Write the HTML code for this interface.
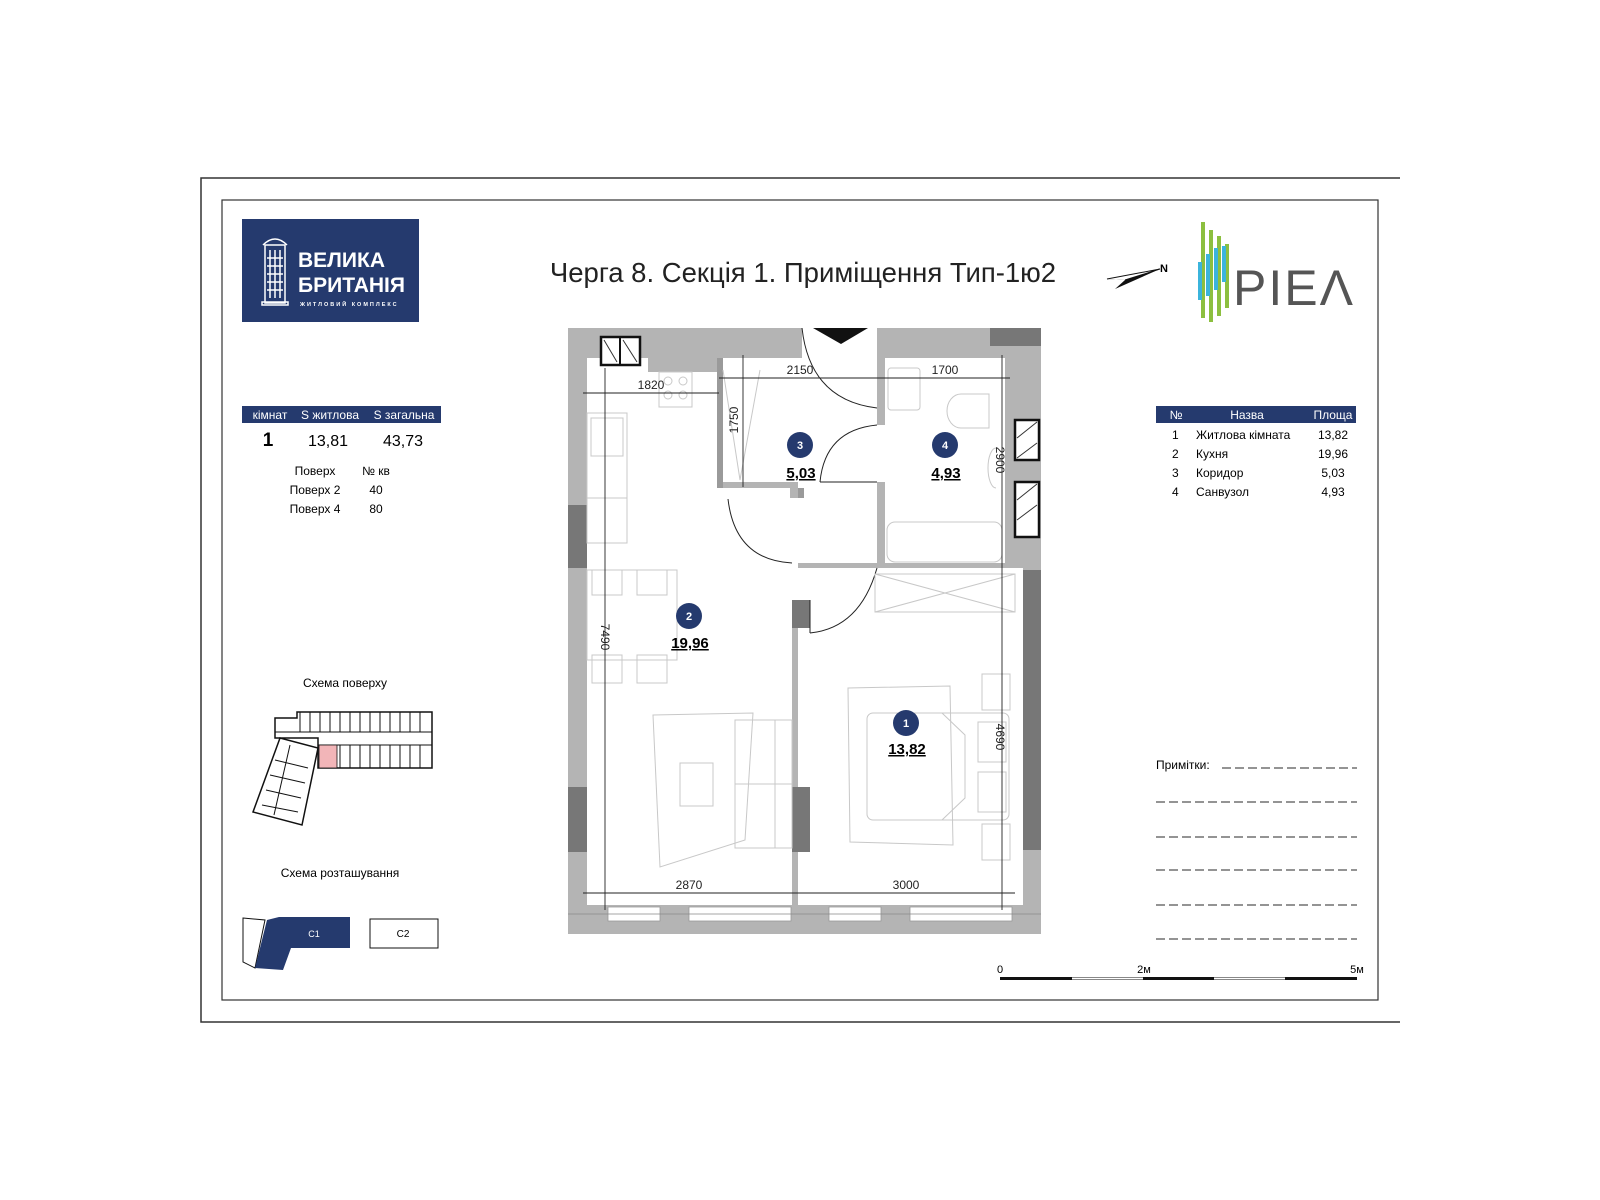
<!DOCTYPE html>
<html><head><meta charset="utf-8"><style>
html,body{margin:0;padding:0;background:#fff;}
svg{display:block;font-family:"Liberation Sans",Arial,sans-serif;}
</style></head><body>
<svg width="1600" height="1200" viewBox="0 0 1600 1200" xmlns="http://www.w3.org/2000/svg">
<polyline points="1400,178 201,178 201,1022 1400,1022" fill="none" stroke="#333" stroke-width="1.5"/>
<rect x="222" y="200" width="1156" height="800" fill="none" stroke="#333" stroke-width="1.2"/>

<rect x="242" y="219" width="177" height="103" fill="#253a6e"/>
<g stroke="#fff" stroke-width="1.5" fill="none">
<rect x="265" y="245" width="20" height="58"/><path d="M263,245 q12,-12 24,0"/><rect x="262" y="302" width="26" height="3"/>
<path d="M270,250v48M275,250v48M280,250v48M267,258h16M267,266h16M267,274h16M267,282h16M267,290h16"/>
</g>
<text x="298" y="267" fill="#fff" font-size="21" font-weight="bold">ВЕЛИКА</text>
<text x="298" y="292" fill="#fff" font-size="21" font-weight="bold">БРИТАНІЯ</text>
<text x="300" y="306" fill="#fff" font-size="5.5" font-weight="bold" letter-spacing="2">ЖИТЛОВИЙ КОМПЛЕКС</text>

<text x="803" y="282" font-size="27.5" text-anchor="middle" fill="#222">Черга 8. Секція 1. Приміщення Тип-1ю2</text>

<path d="M1107,279 L1160,269 L1115,289 L1125,280 Z" fill="#111"/>
<path d="M1107,279 L1160,269 L1125,280" fill="#fff" stroke="#111" stroke-width="1"/>
<text x="1160" y="272" font-size="11" font-weight="bold">N</text>

<g>
<path d="M1203,222v96M1211,230v92M1219,236v80M1227,244v64" stroke="#8cbf3f" stroke-width="4"/>
<path d="M1200,262v38M1208,254v42M1216,248v42M1224,246v36" stroke="#3bb4dc" stroke-width="4"/>
<text x="1233" y="305" font-size="50" fill="#555" letter-spacing="2">PIEΛ</text>
</g>

<rect x="242" y="406" width="199" height="17" fill="#253a6e"/>
<text x="270" y="419" fill="#fff" font-size="12" text-anchor="middle">кімнат</text>
<text x="330" y="419" fill="#fff" font-size="12" text-anchor="middle">S житлова</text>
<text x="404" y="419" fill="#fff" font-size="12" text-anchor="middle">S загальна</text>
<text x="268" y="446" font-size="19" font-weight="bold" text-anchor="middle">1</text>
<text x="328" y="446" font-size="16" text-anchor="middle">13,81</text>
<text x="403" y="446" font-size="16" text-anchor="middle">43,73</text>
<g font-size="12" text-anchor="middle">
<text x="315" y="475">Поверх</text><text x="376" y="475">№ кв</text>
<text x="315" y="494">Поверх 2</text><text x="376" y="494">40</text>
<text x="315" y="513">Поверх 4</text><text x="376" y="513">80</text>
</g>

<rect x="1156" y="406" width="200" height="17" fill="#253a6e"/>
<text x="1176" y="419" fill="#fff" font-size="12" text-anchor="middle">№</text>
<text x="1247" y="419" fill="#fff" font-size="12" text-anchor="middle">Назва</text>
<text x="1333" y="419" fill="#fff" font-size="12" text-anchor="middle">Площа</text>
<g font-size="12">
<text x="1172" y="439">1</text><text x="1196" y="439">Житлова кімната</text><text x="1333" y="439" text-anchor="middle">13,82</text>
<text x="1172" y="458">2</text><text x="1196" y="458">Кухня</text><text x="1333" y="458" text-anchor="middle">19,96</text>
<text x="1172" y="477">3</text><text x="1196" y="477">Коридор</text><text x="1333" y="477" text-anchor="middle">5,03</text>
<text x="1172" y="496">4</text><text x="1196" y="496">Санвузол</text><text x="1333" y="496" text-anchor="middle">4,93</text>
</g>

<text x="1156" y="769" font-size="12">Примітки:</text>
<g stroke="#555" stroke-width="1.2" stroke-dasharray="9,4">
<line x1="1222" y1="768" x2="1357" y2="768"/>
<line x1="1156" y1="802" x2="1357" y2="802"/>
<line x1="1156" y1="837" x2="1357" y2="837"/>
<line x1="1156" y1="870" x2="1357" y2="870"/>
<line x1="1156" y1="905" x2="1357" y2="905"/>
<line x1="1156" y1="939" x2="1357" y2="939"/>
</g>
<text x="1000" y="973" font-size="11" text-anchor="middle">0</text>
<text x="1144" y="973" font-size="11" text-anchor="middle">2м</text>
<text x="1357" y="973" font-size="11" text-anchor="middle">5м</text>
<rect x="1000" y="977" width="357" height="3" fill="#111"/>
<rect x="1072" y="977.5" width="71" height="2" fill="#fff"/>
<rect x="1214" y="977.5" width="71" height="2" fill="#fff"/>

<text x="345" y="687" font-size="12" text-anchor="middle">Схема поверху</text>
<g fill="#fff" stroke="#111" stroke-width="1.5">
<path d="M297,712 H432 V768 H318 V738 H275 V718 H297 Z"/>
<path d="M280,738 L318,748 L302,825 L253,812 Z"/>
</g>
<g stroke="#111" stroke-width="1">
<path d="M275,732H432M300,712v20M310,712v20M320,712v20M330,712v20M340,712v20M350,712v20M360,712v20M370,712v20M380,712v20M390,712v20M400,712v20M410,712v20M420,712v20"/>
<path d="M318,745H432M330,745v23M340,745v23M350,745v23M360,745v23M370,745v23M380,745v23M390,745v23M400,745v23M410,745v23M420,745v23"/>
<path d="M275,760L308,768M270,775L305,783M266,790L301,798M262,805L298,812M290,745L274,815"/>
</g>
<rect x="319" y="745" width="18" height="23" fill="#f2b5b8" stroke="#111" stroke-width="0.8"/>

<text x="340" y="877" font-size="12" text-anchor="middle">Схема розташування</text>
<path d="M243,918 L265,920 L255,968 L243,962 Z" fill="#fff" stroke="#111"/>
<path d="M279,917 H350 V948 H291 L283,970 L255,968 L267,920 Z" fill="#253a6e"/>
<text x="314" y="937" font-size="9" fill="#fff" text-anchor="middle">C1</text>
<rect x="370" y="919" width="68" height="29" fill="#fff" stroke="#111"/>
<text x="403" y="937" font-size="10" text-anchor="middle">C2</text>

<rect x="568" y="328" width="473" height="606" fill="#b4b4b4"/>
<path d="M587,358 H648 V372 H717 V488 H798 V600 H792 V905 H587 Z" fill="#fff"/>
<path d="M723,358 H802 V328 H877 V563 H798 V482 H723 Z" fill="#fff"/>
<path d="M723,482 H798 V498 H790 V488 H723 Z" fill="#b4b4b4"/>
<path d="M717,358 h6 v130 h81 v10 h-6 v-10 h-81 z" fill="#9a9a9a"/>
<rect x="885" y="358" width="120" height="205" fill="#fff"/>
<rect x="877" y="425" width="8" height="57" fill="#fff"/>
<rect x="798" y="568" width="225" height="337" fill="#fff"/>
<g fill="#777">
<rect x="568" y="505" width="19" height="63"/>
<rect x="568" y="787" width="19" height="65"/>
<rect x="792" y="600" width="18" height="28"/>
<rect x="792" y="787" width="18" height="65"/>
<rect x="1023" y="570" width="18" height="280"/>
<rect x="990" y="328" width="51" height="18"/>
</g>
<g fill="#fff" stroke="#999" stroke-width="0.8">
<rect x="608" y="907" width="52" height="14"/><rect x="689" y="907" width="102" height="14"/>
<rect x="829" y="907" width="52" height="14"/><rect x="910" y="907" width="102" height="14"/>
</g>
<line x1="568" y1="914" x2="1041" y2="914" stroke="#888" stroke-width="0.8"/>
<rect x="601" y="337" width="39" height="28" fill="#fff" stroke="#111" stroke-width="2.5"/>
<line x1="620" y1="337" x2="620" y2="365" stroke="#111" stroke-width="2"/>
<path d="M604,340 L617,362 M623,340 L637,362" stroke="#333"/>
<path d="M813,328 H868 L841,344 Z" fill="#111"/>
<path d="M802,328 Q810,400 877,408" fill="none" stroke="#222" stroke-width="1"/>
<path d="M820,482 Q825,430 877,425" fill="none" stroke="#222"/>
<line x1="820" y1="482" x2="877" y2="482" stroke="#222"/>
<path d="M728,499 Q735,560 792,563" fill="none" stroke="#222"/>
<path d="M810,633 Q860,628 877,568" fill="none" stroke="#222"/>
<line x1="810" y1="633" x2="810" y2="600" stroke="#222"/>
<g fill="#fff" stroke="#111" stroke-width="2.5">
<rect x="1015" y="420" width="24" height="40"/><rect x="1015" y="482" width="24" height="55"/>
</g>
<path d="M1017,438 L1037,422 M1017,458 L1037,443 M1017,500 L1037,484 M1017,520 L1037,505" stroke="#333"/>
<g fill="none" stroke="#c8c8c8" stroke-width="1">
<rect x="659" y="372" width="33" height="35"/><circle cx="668" cy="381" r="4"/><circle cx="683" cy="381" r="4"/><circle cx="668" cy="395" r="4"/><circle cx="683" cy="395" r="4"/>
<rect x="587" y="413" width="40" height="130"/><rect x="591" y="418" width="32" height="38"/>
<rect x="587" y="498" width="40" height="45"/>
<rect x="587" y="570" width="90" height="90"/>
<rect x="592" y="570" width="30" height="25"/><rect x="637" y="570" width="30" height="25"/>
<rect x="592" y="655" width="30" height="28"/><rect x="637" y="655" width="30" height="28"/>
<path d="M653,715 L753,713 L745,840 L660,867 Z"/>
<rect x="680" y="763" width="33" height="43"/>
<rect x="735" y="720" width="57" height="128"/><line x1="775" y1="720" x2="775" y2="848"/><line x1="735" y1="784" x2="792" y2="784"/>
<path d="M848,688 L950,686 L953,845 L850,842 Z"/>
<rect x="867" y="713" width="142" height="107" rx="6"/>
<path d="M942,713 L965,735 V798 L942,820"/>
<rect x="982" y="674" width="28" height="36"/><rect x="978" y="722" width="28" height="40"/><rect x="978" y="772" width="28" height="40"/><rect x="982" y="824" width="28" height="36"/>
<rect x="887" y="522" width="115" height="40" rx="8"/>
<rect x="888" y="368" width="32" height="42" rx="3"/>
<path d="M961,394 h28 v34 h-28 a14,17 0 0 1 0,-34z"/>
<path d="M996,448 a8,20 0 0 0 0,40"/>
<rect x="875" y="574" width="140" height="38"/>
<path d="M875,574 L1015,612 M875,612 L1015,574"/>
<path d="M723,370 L740,480 M760,370 L740,480"/>
</g>
<g stroke="#222" stroke-width="0.9">
<line x1="583" y1="393" x2="719" y2="393"/>
<line x1="719" y1="378" x2="1010" y2="378"/>
<line x1="743" y1="355" x2="743" y2="487"/>
<line x1="1002" y1="355" x2="1002" y2="910"/>
<line x1="605" y1="368" x2="605" y2="910"/>
<line x1="583" y1="893" x2="1015" y2="893"/>
</g>
<g font-size="12" fill="#222" text-anchor="middle">
<text x="651" y="389">1820</text>
<text x="800" y="374">2150</text>
<text x="945" y="374">1700</text>
<text x="689" y="889">2870</text>
<text x="906" y="889">3000</text>
<text transform="translate(738,420) rotate(-90)">1750</text>
<text transform="translate(996,460) rotate(90)">2900</text>
<text transform="translate(601,637) rotate(90)">7490</text>
<text transform="translate(996,737) rotate(90)">4690</text>
</g>
<g font-weight="bold" text-anchor="middle">
<circle cx="800" cy="445" r="13" fill="#253a6e"/><text x="800" y="449" fill="#fff" font-size="11">3</text>
<text x="801" y="478" font-size="15" text-decoration="underline">5,03</text>
<circle cx="945" cy="445" r="13" fill="#253a6e"/><text x="945" y="449" fill="#fff" font-size="11">4</text>
<text x="946" y="478" font-size="15" text-decoration="underline">4,93</text>
<circle cx="689" cy="616" r="13" fill="#253a6e"/><text x="689" y="620" fill="#fff" font-size="11">2</text>
<text x="690" y="648" font-size="15" text-decoration="underline">19,96</text>
<circle cx="906" cy="723" r="13" fill="#253a6e"/><text x="906" y="727" fill="#fff" font-size="11">1</text>
<text x="907" y="754" font-size="15" text-decoration="underline">13,82</text>
</g>
</svg>
</body></html>
